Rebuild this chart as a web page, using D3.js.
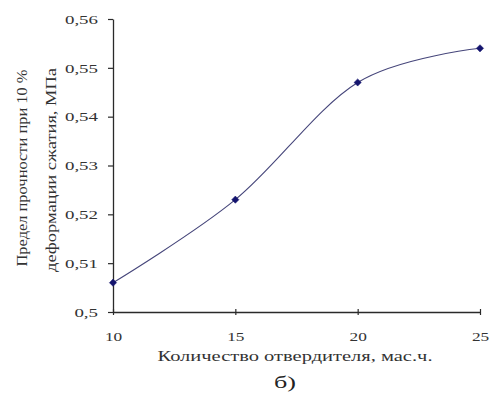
<!DOCTYPE html>
<html><head><meta charset="utf-8">
<script src="https://cdn.jsdelivr.net/npm/d3@7"></script>
<style>
html,body{margin:0;padding:0;background:#fff;}
svg{display:block;font-family:"Liberation Serif","Times New Roman",serif;}
</style></head>
<body>
<svg id="c" width="491" height="396"></svg>
<script>
const xValues = [10, 15, 20, 25];
const yValues = [0.506, 0.523, 0.547, 0.554];
const yTicks = [0.50, 0.51, 0.52, 0.53, 0.54, 0.55, 0.56];
const yTickLabels = ["0,5", "0,51", "0,52", "0,53", "0,54", "0,55", "0,56"];
const xTicks = [10, 15, 20, 25];
const xTickLabels = ["10", "15", "20", "25"];
const yTitleLines = ["Предел прочности при 10 %", "деформации сжатия, МПа"];
const xTitle = "Количество отвердителя, мас.ч.";
const caption = "б)";

const svg = d3.select("#c");
const x = d3.scaleLinear().domain([10, 25]).range([113, 480]);
const y = d3.scaleLinear().domain([0.5, 0.56]).range([312, 19]);
const axisColor = "#2a2a2a";

function stretch(sel, f) {
  sel.each(function () {
    const w = this.getComputedTextLength();
    d3.select(this).attr("textLength", w * f).attr("lengthAdjust", "spacingAndGlyphs");
  });
}

// Y axis
const gy = svg.append("g").attr("transform", `translate(${x(10)},0)`)
  .call(d3.axisLeft(y).tickValues(yTicks).tickSize(5).tickSizeOuter(0).tickPadding(10)
    .tickFormat((d, i) => yTickLabels[i]));
gy.select(".domain").attr("stroke", axisColor).attr("stroke-width", 1.3);
gy.selectAll(".tick line").attr("stroke", axisColor).attr("stroke-width", 1.2);
gy.selectAll(".tick text").attr("font-family", "Liberation Serif").attr("font-size", 13.5).attr("fill", "#333");
stretch(gy.selectAll(".tick text"), 1.4);

// X axis
const gx = svg.append("g").attr("transform", `translate(0,${y(0.5)})`)
  .call(d3.axisBottom(x).tickValues(xTicks).tickSize(3).tickSizeOuter(0)
    .tickFormat((d, i) => xTickLabels[i]));
gx.select(".domain").attr("stroke", axisColor).attr("stroke-width", 1.3);
gx.selectAll(".tick line").attr("stroke", axisColor).attr("stroke-width", 1.2).attr("y1", -3).attr("y2", 3);
gx.selectAll(".tick text").attr("font-family", "Liberation Serif").attr("font-size", 13.5).attr("fill", "#333")
  .attr("y", 29).attr("dy", 0);
stretch(gx.selectAll(".tick text"), 1.28);

// Line
const pts = xValues.map((v, i) => [v, yValues[i]]);
const line = d3.line().x(d => x(d[0])).y(d => y(d[1])).curve(d3.curveCardinal.tension(0));
svg.append("path").datum(pts).attr("d", line)
  .attr("fill", "none").attr("stroke", "#45457a").attr("stroke-width", 1.1);

// Markers (square diamonds)
svg.append("g").selectAll("path").data(pts).join("path")
  .attr("transform", d => `translate(${x(d[0])},${y(d[1])}) rotate(45)`)
  .attr("d", d3.symbol().type(d3.symbolSquare).size(26))
  .attr("fill", "#14146e").attr("stroke", "#14146e").attr("stroke-width", 0.5);

// Y title
const yTitleX = [27, 56];
const yTitleLen = [197, 204];
const yTitleCy = [168, 170];
yTitleLines.forEach((t, i) => {
  svg.append("text")
    .attr("transform", `translate(${yTitleX[i]},${yTitleCy[i]}) rotate(-90)`)
    .attr("text-anchor", "middle")
    .attr("font-size", 14).attr("fill", "#333")
    .attr("textLength", yTitleLen[i]).attr("lengthAdjust", "spacingAndGlyphs")
    .text(t);
});

// X title
svg.append("text").attr("x", 295).attr("y", 361).attr("text-anchor", "middle")
  .attr("font-size", 14).attr("fill", "#333")
  .attr("textLength", 275).attr("lengthAdjust", "spacingAndGlyphs")
  .text(xTitle);

// Caption
svg.append("text").attr("x", 285).attr("y", 388).attr("text-anchor", "middle")
  .attr("font-size", 17).attr("fill", "#222")
  .attr("textLength", 22).attr("lengthAdjust", "spacingAndGlyphs")
  .text(caption);
</script>
</body></html>
